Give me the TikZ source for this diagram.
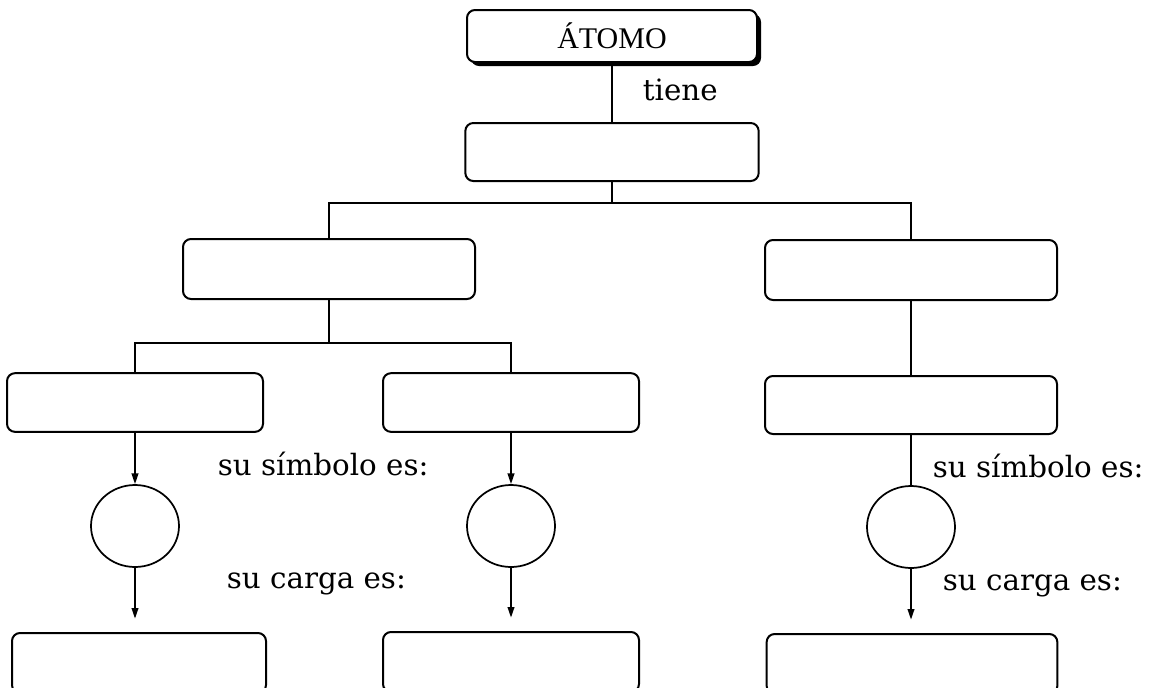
\documentclass[tikz,border=0pt]{standalone}
\usepackage{fontspec}
\setmainfont{Liberation Serif}
\newfontfamily\fuenterotulo{DejaVu Serif}
\usetikzlibrary{shapes.geometric,arrows.meta,shadows}

\tikzset{every picture/.style={line width=1.3pt}}
\tikzset{
  caja/.style={draw, rounded corners=6pt, line width=1.5pt, inner sep=0pt},
  bola/.style={draw, ellipse, line width=1.3pt, minimum width=66pt, minimum height=61.5pt, inner sep=0pt},
  rotulo/.style={font=\fuenterotulo\fontsize{22}{26}\selectfont, anchor=base west, inner sep=0pt},
  flecha/.style={-{Triangle[length=8pt,width=5pt]}}
}

\begin{document}
\begin{tikzpicture}[x=0.75pt,y=0.75pt,yscale=-1]
%set diagram left start at 0, and has height of 687
\clip (0,0) rectangle (1154,687);

%Shape: Rectangle [id:atomo] 
\node [caja, fill=white, minimum width=217.5pt, minimum height=39pt, drop shadow={shadow xshift=3pt, shadow yshift=-3pt, fill=black, opacity=1}, font=\fontsize{22.5}{27}\selectfont] (atomo) at (612,36) {ÁTOMO};
%Shape: Rectangle [id:b2] 
\node [caja, minimum width=220pt, minimum height=43.5pt] (b2) at (612,152) {};
%Shape: Rectangle [id:izq] 
\node [caja, minimum width=219pt, minimum height=45pt] (izq) at (329,269) {};
%Shape: Rectangle [id:der] 
\node [caja, minimum width=219pt, minimum height=45pt] (der) at (911,270) {};
%Shape: Rectangle [id:n1] 
\node [caja, minimum width=192pt, minimum height=44pt] (n1) at (135,402.5) {};
%Shape: Rectangle [id:n2] 
\node [caja, minimum width=192pt, minimum height=44pt] (n2) at (511,402.5) {};
%Shape: Rectangle [id:n3] 
\node [caja, minimum width=219pt, minimum height=43.5pt] (n3) at (911,405) {};

%Shape: Circle [id:c1] 
\node [bola] (c1) at (135,526) {};
%Shape: Circle [id:c2] 
\node [bola] (c2) at (511,526) {};
%Shape: Circle [id:c3] 
\node [bola] (c3) at (911,527) {};

%Shape: Rectangle [id:f1] 
\node [caja, minimum width=190.5pt, minimum height=45pt] (f1) at (139,663) {};
%Shape: Rectangle [id:f2] 
\node [caja, minimum width=192pt, minimum height=45pt] (f2) at (511,662) {};
%Shape: Rectangle [id:f3] 
\node [caja, minimum width=218pt, minimum height=45pt] (f3) at (912,664) {};

%Straight Lines [id:tronco] 
\draw (atomo.south) -- (atomo.south |- b2.north) ;
\coordinate (j1) at (612,203);
\draw (b2.south) -- (j1) ;
\draw (izq.north) |- (j1) -| (der.north) ;

%Straight Lines [id:rama] 
\coordinate (j2) at (329,343);
\draw (izq.south) -- (j2) ;
\draw (n1.north) |- (j2) -| (n2.north) ;
\draw (der.south) -- (n3.north) ;

%Straight Lines [id:flechas] 
\draw [flecha] (n1.south) -- (c1.north) ;
\draw [flecha] (n2.south) -- (c2.north) ;
\draw (n3.south) -- (c3.north) ;
\draw [flecha, shorten >=10pt] (c1.south) -- (c1.south |- f1.north) ;
\draw [flecha, shorten >=10pt] (c2.south) -- (c2.south |- f2.north) ;
\draw [flecha, shorten >=10pt] (c3.south) -- (c3.south |- f3.north) ;

% Text Node
\node [rotulo] (tiene) at (642,100) {tiene};
% Text Node
\node [rotulo] (simbolo1) at (217,475) {su símbolo es:};
% Text Node
\node [rotulo] (simbolo2) at (932,477) {su símbolo es:};
% Text Node
\node [rotulo] (carga1) at (226,588) {su carga es:};
% Text Node
\node [rotulo] (carga2) at (942,590) {su carga es:};

\end{tikzpicture}
\end{document}
